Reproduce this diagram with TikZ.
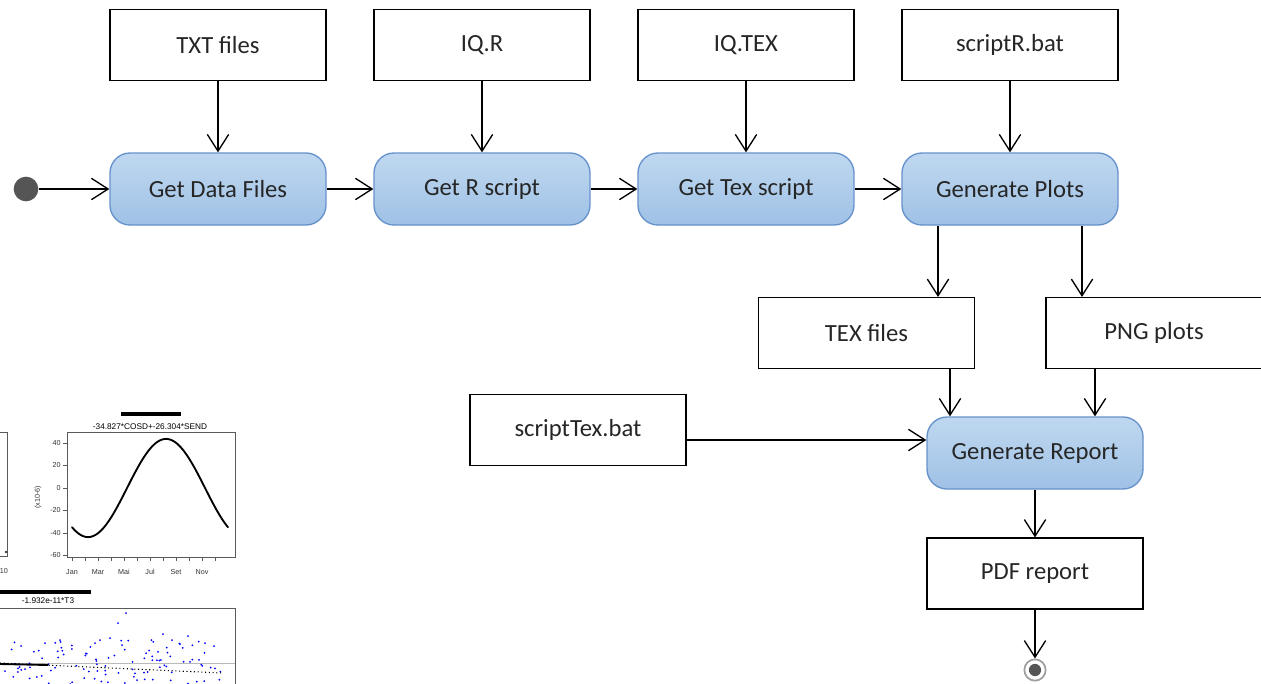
\documentclass[tikz,border=0pt]{standalone}
\usepackage{fontspec}
\setmainfont{Carlito}
\newfontfamily\plotfont{Liberation Sans}
\usetikzlibrary{arrows.meta}
\definecolor{acttop}{HTML}{BFD8F0}
\definecolor{actbot}{HTML}{9FC1E5}
\definecolor{actborder}{HTML}{6692CB}
\definecolor{initgray}{HTML}{555555}
\definecolor{txtc}{HTML}{262626}
\begin{document}
\begin{tikzpicture}[x=0.75pt,y=-0.75pt,
  box/.style={draw=black, line width=1.1pt, fill=white, minimum width=162pt, minimum height=53pt,
    inner sep=0pt, text=txtc, font=\fontsize{18.5}{20}\selectfont},
  act/.style={draw=actborder, line width=1pt, rounded corners=15pt, top color=acttop, bottom color=actbot,
    minimum width=162pt, minimum height=54pt, inner sep=0pt, text=txtc, font=\fontsize{18.5}{20}\selectfont},
  initnode/.style={circle, fill=initgray, minimum size=18.5pt, inner sep=0pt},
  finalnode/.style={circle, draw=gray!75, line width=1.3pt, fill=white, minimum size=16pt, inner sep=0pt},
  arr/.style={-{Straight Barb[length=12.5pt,width=16pt]}, line width=1pt, draw=black},
  plottxt/.style={font=\plotfont\fontsize{5.4}{6}\selectfont, text=black!80, inner sep=0pt},
  plotframe/.style={draw=black!65, line width=0.6pt}
]
\useasboundingbox (0,0) rectangle (1261,683);
\clip (0,0) rectangle (1261,683);

% ---------- nodes ----------
\node[box] (txt)   at (218,45)  {TXT files};
\node[box] (iqr)   at (482,45)  {IQ.R};
\node[box] (iqtex) at (746,45)  {IQ.TEX};
\node[box] (scr)   at (1010,45) {scriptR.bat};

\node[act] (gdf) at (218,189)  {Get Data Files};
\node[act] (grs) at (482,189)  {Get R script};
\node[act] (gts) at (746,189)  {Get Tex script};
\node[act] (gp)  at (1010,189) {Generate Plots};

\node[box] (texf) at (866.5,333) {TEX files};
\node[box] (png)  at (1154,333)  {PNG plots};
\node[box] (stb)  at (578,430)   {scriptTex.bat};
\node[act] (gr)   at (1035,453)  {Generate Report};
\node[box] (pdf)  at (1035,573.5) {PDF report};

\node[initnode] (start) at (26,189) {};
\node[finalnode] (end) at (1035,670) {};
\fill[initgray] (end.center) circle (4.6pt);

% ---------- helper coordinates ----------
\coordinate (xa) at (938,0);
\coordinate (xb) at (1082,0);
\coordinate (xc) at (950,0);
\coordinate (xd) at (1095,0);
\coordinate (ya) at (0,440);

% ---------- connectors ----------
\draw[arr] (start) -- (gdf);
\draw[arr] (gdf) -- (grs);
\draw[arr] (grs) -- (gts);
\draw[arr] (gts) -- (gp);
\draw[arr] (txt) -- (gdf);
\draw[arr] (iqr) -- (grs);
\draw[arr] (iqtex) -- (gts);
\draw[arr] (scr) -- (gp);
\draw[arr] (gp.south -| xa) -- (texf.north -| xa);
\draw[arr] (gp.south -| xb) -- (png.north -| xb);
\draw[arr] (texf.south -| xc) -- (gr.north -| xc);
\draw[arr] (png.south -| xd) -- (gr.north -| xd);
\draw[arr] (stb.east |- ya) -- (gr.west |- ya);
\draw[arr] (gr) -- (pdf);
\draw[arr] (pdf) -- (end);

% ---------- screenshot fragment of R plots (bottom left) ----------
% left partial plot
\draw[plotframe] (0,432) -- (7,432) -- (7,556) -- (0,556);
\fill[black] (6,552) circle (0.8pt);
\node[plottxt] at (4,571) {10};

% right plot
\draw[black, line width=2.6pt] (121,414) -- (181,414);
\node[plottxt, font=\plotfont\fontsize{6.2}{7}\selectfont, text=black] at (150,426.5) {-34.827*COSD+-26.304*SEND};
\draw[plotframe] (67,432) rectangle (235,557);
\foreach \v/\yy in {40/443,20/465.5,0/488,-20/510.5,-40/533,-60/555.5}{
  \draw[plotframe] (67,\yy) -- (63,\yy);
  \node[plottxt, anchor=east] at (61,\yy) {\v};
}
\node[plottxt, rotate=90] at (38,497) {(x10-6)};
\foreach \i in {0,...,11}{
  \draw[plotframe] ({72+13*\i},557) -- ({72+13*\i},561);
}
\foreach \m [count=\k from 0] in {Jan,Mar,Mai,Jul,Set,Nov}{
  \node[plottxt] at ({72+26*\k},572) {\m};
}
\draw[black, line width=1.4pt, line cap=round] plot[domain=0:360, samples=90, smooth]
  ({72+\x*0.43333},{488+1.125*(34.827*cos(\x)+26.304*sin(\x))});

% bottom plot
\draw[black, line width=2.6pt] (0,592) -- (91,592);
\node[plottxt, font=\plotfont\fontsize{6.2}{7}\selectfont, text=black] at (48,601) {-1.932e-11*T3};
\draw[plotframe] (-5,608) -- (235,608) -- (235,690);
\draw[gray!55, line width=0.5pt] (0,663) -- (235,663);
\pgfmathsetseed{5}
\foreach \i in {1,...,110}{
  \pgfmathsetmacro{\px}{2+rnd*220}
  \pgfmathsetmacro{\py}{640+rnd*46}
  \fill[blue] (\px,\py) circle (0.75pt);
}
\foreach \p in {(126,613),(118,623),(110,638),(122,645),(163,634),(180,644),(188,636),(205,643),(214,646),(172,640),(100,640),(45,643),(60,640)}{
  \fill[blue] \p circle (0.75pt);
}
\draw[black, line width=0.8pt, dotted] (0,663) -- (222,673);
\draw[black, line width=1.4pt] (0,664) -- (48,665);
\end{tikzpicture}
\end{document}
